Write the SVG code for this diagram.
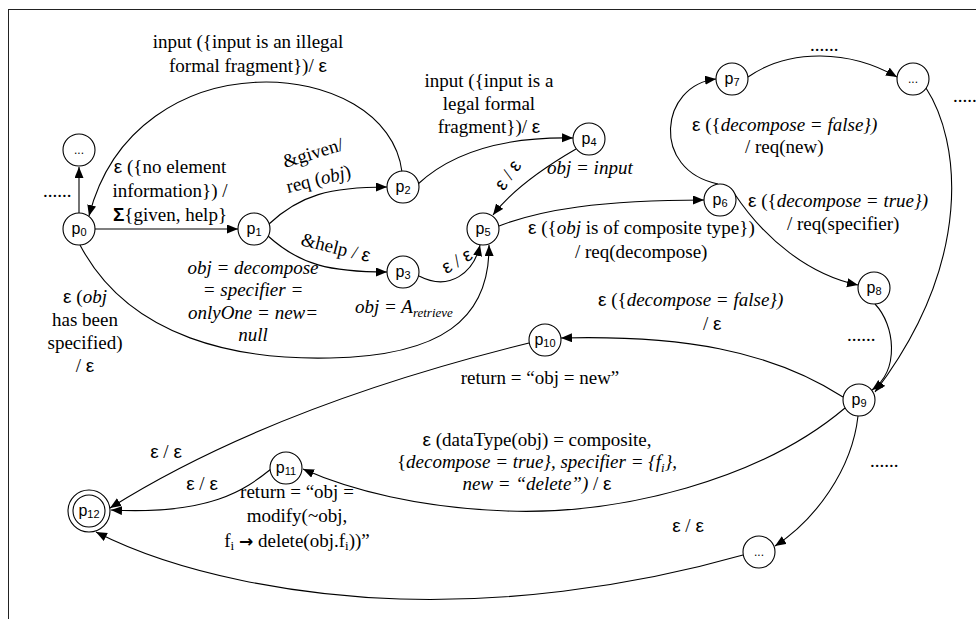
<svg xmlns="http://www.w3.org/2000/svg" width="976" height="619" viewBox="0 0 976 619">
  <style>
    .frame { fill: none; stroke: #222; stroke-width: 1; }
    .node { fill: #fff; stroke: #000; stroke-width: 1.1; }
    .edge { fill: none; stroke: #000; stroke-width: 1.1; }
    .edge.arr { marker-end: url(#arrow); }
    .t { font-family: "Liberation Serif", "Times New Roman", serif; font-size: 19px; fill: #000; }
    .i { font-style: italic; }
    .e { font-family: "Liberation Sans", Arial, sans-serif; }
    .lbl { font-family: "Liberation Sans", Arial, sans-serif; font-size: 16px; fill: #000; }
    .sub { font-size: 11px; }
    .ell { font-family: "Liberation Sans", Arial, sans-serif; font-size: 12px; fill: #000; }
  </style>
  <defs>
    <marker id="arrow" markerUnits="userSpaceOnUse" markerWidth="12" markerHeight="10" refX="11" refY="4.5" orient="auto">
      <path d="M0,0 L11,4.5 L0,9 z" fill="#000"/>
    </marker>
  </defs>

  <rect class="frame" x="8.5" y="9.5" width="1000" height="700"/>

  <!-- transitions -->
  <g id="connectors">
    <path class="edge arr" d="M79,213 L79,167"/>
    <path class="edge arr" d="M95,229 L238,229"/>
    <path class="edge arr" d="M402,172 C388,55 135,35 89,216"/>
    <path class="edge arr" d="M269,224 C300,195 330,187 387,187"/>
    <path class="edge arr" d="M268,236 C300,265 330,272 387,272"/>
    <path class="edge arr" d="M418,184 C460,145 520,137 573,138"/>
    <path class="edge arr" d="M576,149 C545,167 512,190 493,215"/>
    <path class="edge arr" d="M419,276 C450,292 474,272 480,245"/>
    <path class="edge arr" d="M80,245 C130,340 240,360 330,358 C440,356 490,320 489,245"/>
    <path class="edge arr" d="M499,226 C540,210 600,200 704,200"/>
    <path class="edge arr" d="M718,184 C650,170 660,85 716,79"/>
    <path class="edge arr" d="M748,77 C790,48 850,50 897,77"/>
    <path class="edge arr" d="M926,88 C960,140 975,260 875,392"/>
    <path class="edge arr" d="M734,193 C765,240 810,275 858,285"/>
    <path class="edge arr" d="M875,304 C895,325 900,370 872,390"/>
    <path class="edge arr" d="M843,397 C770,350 680,335 561,338"/>
    <path class="edge arr" d="M529,343 C420,370 250,420 110,508"/>
    <path class="edge arr" d="M845,408 C760,480 620,515 507,511 C420,508 350,490 303,469"/>
    <path class="edge arr" d="M271,469 C245,490 210,515 111,510"/>
    <path class="edge arr" d="M858,416 C852,470 815,520 775,546"/>
    <path class="edge arr" d="M743,555 C620,590 500,602 400,599 C300,596 180,575 96,532"/>
  </g>

  <!-- states -->
  <g id="q-top"><circle class="node" cx="79" cy="150" r="16"/><text class="ell" x="79" y="154" text-anchor="middle">...</text></g>
  <g id="p0"><circle class="node" cx="79" cy="229" r="16"/><text class="lbl" x="79" y="234" text-anchor="middle">p<tspan class="sub" dy="2">0</tspan></text></g>
  <g id="p1"><circle class="node" cx="254" cy="229" r="16"/><text class="lbl" x="254" y="234" text-anchor="middle">p<tspan class="sub" dy="2">1</tspan></text></g>
  <g id="p2"><circle class="node" cx="403" cy="187" r="16"/><text class="lbl" x="403" y="192" text-anchor="middle">p<tspan class="sub" dy="2">2</tspan></text></g>
  <g id="p3"><circle class="node" cx="403" cy="272" r="16"/><text class="lbl" x="403" y="277" text-anchor="middle">p<tspan class="sub" dy="2">3</tspan></text></g>
  <g id="p4"><circle class="node" cx="589" cy="139" r="16"/><text class="lbl" x="589" y="144" text-anchor="middle">p<tspan class="sub" dy="2">4</tspan></text></g>
  <g id="p5"><circle class="node" cx="483" cy="229" r="16"/><text class="lbl" x="483" y="234" text-anchor="middle">p<tspan class="sub" dy="2">5</tspan></text></g>
  <g id="p6"><circle class="node" cx="720" cy="200" r="16"/><text class="lbl" x="720" y="205" text-anchor="middle">p<tspan class="sub" dy="2">6</tspan></text></g>
  <g id="p7"><circle class="node" cx="732" cy="79" r="16"/><text class="lbl" x="732" y="84" text-anchor="middle">p<tspan class="sub" dy="2">7</tspan></text></g>
  <g id="q-right"><circle class="node" cx="913" cy="79" r="16"/><text class="ell" x="913" y="83" text-anchor="middle">...</text></g>
  <g id="p8"><circle class="node" cx="874" cy="288" r="16"/><text class="lbl" x="874" y="293" text-anchor="middle">p<tspan class="sub" dy="2">8</tspan></text></g>
  <g id="p9"><circle class="node" cx="859" cy="400" r="16"/><text class="lbl" x="859" y="405" text-anchor="middle">p<tspan class="sub" dy="2">9</tspan></text></g>
  <g id="p10"><circle class="node" cx="545" cy="340" r="16"/><text class="lbl" x="545" y="345" text-anchor="middle">p<tspan class="sub" dy="2">10</tspan></text></g>
  <g id="p11"><circle class="node" cx="286" cy="468" r="16"/><text class="lbl" x="286" y="473" text-anchor="middle">p<tspan class="sub" dy="2">11</tspan></text></g>
  <g id="p12"><circle class="node" cx="89" cy="511" r="21"/><circle class="node" cx="89" cy="511" r="16"/><text class="lbl" x="89" y="516" text-anchor="middle">p<tspan class="sub" dy="2">12</tspan></text></g>
  <g id="q-bottom"><circle class="node" cx="759" cy="552" r="16"/><text class="ell" x="759" y="556" text-anchor="middle">...</text></g>

  <!-- transition labels -->
  <g id="labels" class="t">
    <text class="t" x="248" y="48" text-anchor="middle">input ({input is an illegal</text>
    <text class="t" x="248" y="72" text-anchor="middle">formal fragment})/ <tspan class="e">ε</tspan></text>

    <text class="t" x="170" y="173" text-anchor="middle"><tspan class="e">ε</tspan> ({no element</text>
    <text class="t" x="170" y="197" text-anchor="middle">information}) /</text>
    <text class="t" x="170" y="221" text-anchor="middle"><tspan class="e" font-weight="bold">Σ</tspan>{given, help}</text>
    <text class="t" x="43" y="197">......</text>

    <text class="t" transform="translate(285,168) rotate(-17)">&amp;given/</text>
    <text class="t" transform="translate(288,193) rotate(-14)">req (<tspan class="i">obj</tspan>)</text>
    <text class="t" transform="translate(300,245) rotate(14)">&amp;help / <tspan class="e">ε</tspan></text>
    <text class="t" transform="translate(457,261) rotate(-30)" y="6" text-anchor="middle"><tspan class="e">ε</tspan> / <tspan class="e">ε</tspan></text>
    <text class="t" transform="translate(508,175) rotate(-55)" y="6" text-anchor="middle"><tspan class="e">ε</tspan> / <tspan class="e">ε</tspan></text>

    <text class="t" x="489" y="87" text-anchor="middle">input ({input is a</text>
    <text class="t" x="489" y="110" text-anchor="middle">legal formal</text>
    <text class="t" x="489" y="133" text-anchor="middle">fragment})/ <tspan class="e">ε</tspan></text>
    <text class="t i" x="547" y="174">obj = input</text>

    <text class="t i" x="253" y="274" text-anchor="middle">obj = decompose</text>
    <text class="t i" x="253" y="296" text-anchor="middle">= specifier =</text>
    <text class="t i" x="253" y="319" text-anchor="middle">onlyOne = new=</text>
    <text class="t i" x="253" y="341" text-anchor="middle">null</text>

    <text class="t" x="85" y="303" text-anchor="middle"><tspan class="e">ε</tspan> (<tspan class="i">obj</tspan></text>
    <text class="t" x="85" y="326" text-anchor="middle">has been</text>
    <text class="t" x="85" y="349" text-anchor="middle">specified)</text>
    <text class="t" x="85" y="372" text-anchor="middle">/ <tspan class="e">ε</tspan></text>

    <text class="t i" x="355" y="313">obj = A<tspan font-size="13" dy="4">retrieve</tspan></text>

    <text class="t" x="528" y="234"><tspan class="e">ε</tspan> ({<tspan class="i">obj</tspan> is of composite type})</text>
    <text class="t" x="575" y="258">/ req(decompose)</text>

    <text class="t" x="692" y="131"><tspan class="e">ε</tspan> ({<tspan class="i">decompose = false})</tspan></text>
    <text class="t" x="745" y="153">/ req(new)</text>
    <text class="t" x="748" y="207"><tspan class="e">ε</tspan> ({<tspan class="i">decompose = true})</tspan></text>
    <text class="t" x="787" y="230">/ req(specifier)</text>
    <text class="t" x="810" y="51">......</text>
    <text class="t" x="953" y="102">.....</text>

    <text class="t" x="598" y="306"><tspan class="e">ε</tspan> ({<tspan class="i">decompose = false})</tspan></text>
    <text class="t" x="703" y="330">/ <tspan class="e">ε</tspan></text>
    <text class="t" x="847" y="341">......</text>
    <text class="t" x="870" y="467">......</text>

    <text class="t" x="540" y="384" text-anchor="middle">return = “obj = new”</text>

    <text class="t" x="537" y="446" text-anchor="middle"><tspan class="e">ε</tspan> (dataType(obj) = composite,</text>
    <text class="t" x="537" y="468" text-anchor="middle">{<tspan class="i">decompose = true}, specifier = {f<tspan font-size="13" dy="4">i</tspan><tspan dy="-4">},</tspan></tspan></text>
    <text class="t" x="537" y="490" text-anchor="middle"><tspan class="i">new = “delete”) </tspan>/ <tspan class="e">ε</tspan></text>

    <text class="t" x="166" y="458" text-anchor="middle"><tspan class="e">ε</tspan> /  <tspan class="e">ε</tspan></text>
    <text class="t" x="202" y="490" text-anchor="middle"><tspan class="e">ε</tspan> /  <tspan class="e">ε</tspan></text>
    <text class="t" x="297" y="498" text-anchor="middle">return = “obj =</text>
    <text class="t" x="297" y="522" text-anchor="middle">modify(~obj,</text>
    <text class="t" x="297" y="547" text-anchor="middle">f<tspan font-size="13" dy="3">i</tspan><tspan dy="-3"> </tspan><tspan font-family="DejaVu Sans, sans-serif" font-weight="bold" font-size="17">→</tspan> delete(obj.f<tspan font-size="13" dy="3">i</tspan><tspan dy="-3">))”</tspan></text>
    <text class="t" x="688" y="532" text-anchor="middle"><tspan class="e">ε</tspan> /  <tspan class="e">ε</tspan></text>
  </g>
</svg>
